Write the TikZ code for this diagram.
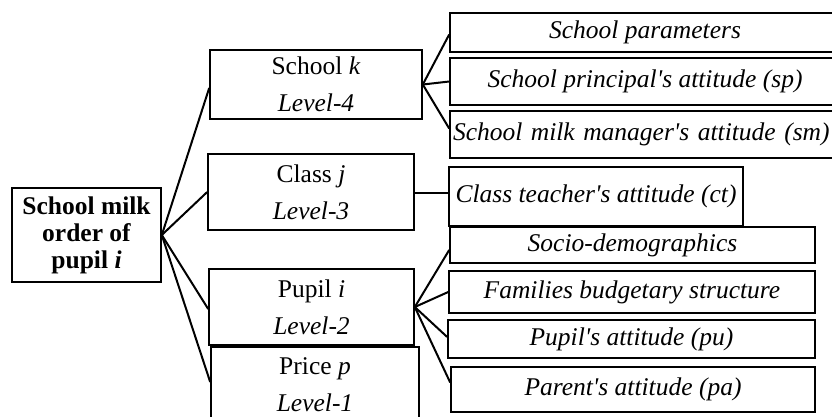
\documentclass[tikz,border=0pt]{standalone}
\usepackage{fontspec}
\setmainfont{Liberation Serif}
\usetikzlibrary{shadows}
\begin{document}
\begin{tikzpicture}[x=1bp,y=-1bp]
\tikzset{
 box/.style={draw, line width=1.6bp, rectangle, inner sep=0pt, align=center, fill=white,
   drop shadow={shadow xshift=1.3bp, shadow yshift=-1.3bp, fill=black!30}},
 lvl/.style={box, font=\fontsize{25.5bp}{37bp}\selectfont},
 mainbox/.style={box, font=\fontsize{25.5bp}{27bp}\selectfont\bfseries},
 fac/.style={box, font=\fontsize{25.5bp}{30bp}\selectfont\itshape},
 link/.style={line width=2bp},
}
\newcommand{\ap}{\textquotesingle}
\useasboundingbox (0,0) rectangle (832,416);
\clip (0,0) rectangle (832,416);
% root
\node[mainbox, minimum width=149bp, minimum height=94bp] (main) at (86.5,235) {School milk\\order of\\pupil \textit{i}};
% levels
\node[lvl, minimum width=212bp, minimum height=69bp] (sk) at (316,84.5) {School \textit{k}\\\textit{Level-4}};
\node[lvl, minimum width=206bp, minimum height=76bp] (cj) at (311,192) {Class \textit{j}\\\textit{Level-3}};
\node[lvl, minimum width=205bp, minimum height=76bp] (pi) at (311.5,307) {Pupil \textit{i}\\\textit{Level-2}};
\node[lvl, minimum width=208bp, minimum height=76bp] (pp) at (315,385) {Price \textit{p}\\\textit{Level-1}};
% factors
\node[fac, minimum width=390bp, minimum height=39bp] (f1) at (645,32.5) {School parameters};
\node[fac, minimum width=390bp, minimum height=47bp] (f2) at (645,81.5) {School principal\ap s attitude (sp)};
\node[fac, minimum width=390bp, minimum height=47bp, text width=384bp, align=left] (f3) at (645,134.5) {\mbox{School milk manager\ap s attitude (sm)}};
\node[fac, minimum width=294bp, minimum height=59bp] (f4) at (596,196.5) {Class teacher\ap s attitude (ct)};
\node[fac, minimum width=365bp, minimum height=36bp] (f5) at (632.5,245) {Socio-demographics};
\node[fac, minimum width=366bp, minimum height=42bp] (f6) at (632,292) {Families budgetary structure};
\node[fac, minimum width=367bp, minimum height=38bp] (f7) at (631.5,339) {Pupil\ap s attitude (pu)};
\node[fac, minimum width=364bp, minimum height=45bp] (f8) at (633,389.5) {Parent\ap s attitude (pa)};
% connectors
\draw[link] (main.east) -- ([yshift=-3.5bp]sk.west);
\draw[link] (main.east) -- (cj.west);
\draw[link] (main.east) -- ([yshift=-2bp]pi.west);
\draw[link] (main.east) -- ([yshift=3bp]pp.west);
\draw[link] (sk.east) -- ([yshift=-2bp]f1.west);
\draw[link] (sk.east) -- (f2.west);
\draw[link] (sk.east) -- ([yshift=6bp]f3.west);
\draw[link] ([yshift=-1bp]cj.east) -- ([yshift=-1bp]cj.east -| f4.west);
\draw[link] (pi.east) -- ([yshift=-5bp]f5.west);
\draw[link] (pi.east) -- (f6.west);
\draw[link] (pi.east) -- ([yshift=2bp]f7.west);
\draw[link] (pi.east) -- ([yshift=7bp]f8.west);
\end{tikzpicture}
\end{document}
